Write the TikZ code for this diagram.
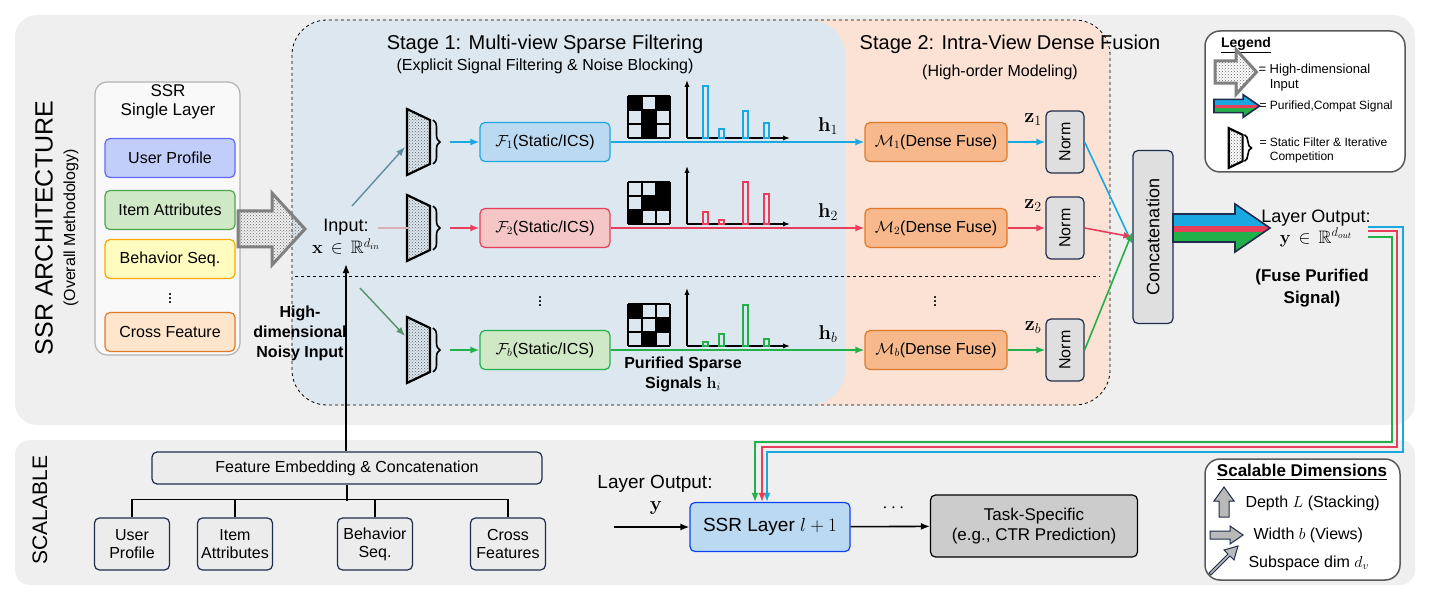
\documentclass[tikz,border=0pt]{standalone}
\usepackage{fix-cm}
\usepackage{amsmath,amssymb}
\usepackage[no-math]{fontspec}
\setmainfont{Liberation Sans}
\usetikzlibrary{patterns,arrows.meta,decorations.pathreplacing}

\definecolor{cblue}{HTML}{1AA8E0}
\definecolor{cred}{HTML}{E83E5C}
\definecolor{cgreen}{HTML}{22B04B}
\definecolor{fblue}{HTML}{BCD9F2}
\definecolor{fred}{HTML}{F5C6C6}
\definecolor{fgreen}{HTML}{CFE8C6}
\definecolor{forange}{HTML}{F7B98C}
\definecolor{dorange}{HTML}{E07A2A}
\definecolor{navy}{HTML}{1F2D4D}
\definecolor{panel}{HTML}{EFEFEF}
\definecolor{bgone}{HTML}{DCE7EF}
\definecolor{bgtwo}{HTML}{FBE2D5}

\tikzset{
  txt/.style={font=\fontsize{16}{18}\selectfont},
  small/.style={font=\fontsize{13}{15}\selectfont},
  big/.style={font=\fontsize{20}{22}\selectfont},
  box/.style={draw, rounded corners=5pt, line width=1.2pt, minimum height=39pt, align=center, txt},
  feat/.style={box, minimum width=130pt},
  fbox/.style={box, minimum width=130pt},
  mbox/.style={box, fill=forange, draw=dorange, minimum width=142pt},
  normbox/.style={draw=navy, fill=gray!25, rounded corners=5pt, line width=1.2pt, rotate=90, minimum width=62pt, minimum height=38pt, txt},
  gbox/.style={draw=navy, fill=gray!20, rounded corners=5pt, line width=1.2pt, align=center, txt},
  flow/.style={-{Latex[length=9pt,width=7pt]}, line width=1.6pt},
  filterglyph/.pic={
    \draw[line width=2.2pt, fill=gray!30, pattern=crosshatch dots, pattern color=gray!70!black]
      (-12,-33) -- (11,-22) -- (11,22) -- (-12,33) -- cycle;
    \draw[line width=1.6pt, decorate, decoration={brace, amplitude=7pt}] (14,-22) -- (14,22);
  },
  tricolor/.pic={
    \begin{scope}
      \clip (0,-14) -- (62,-14) -- (62,-24) -- (97,0) -- (62,24) -- (62,14) -- (0,14) -- cycle;
      \fill[cblue] (0,-25) rectangle (97,-2);
      \fill[cred] (0,-2) rectangle (97,4);
      \fill[cgreen] (0,4) rectangle (97,25);
    \end{scope}
    \draw[navy, line width=1.6pt, line join=miter]
      (0,-14) -- (62,-14) -- (62,-24) -- (97,0) -- (62,24) -- (62,14) -- (0,14) -- cycle;
  },
  noisy/.pic={
    \draw[gray, line width=3pt, fill=gray!35, pattern=crosshatch dots, pattern color=gray!80!black]
      (0,-18) -- (34,-18) -- (34,-36) -- (67,0) -- (34,36) -- (34,18) -- (0,18) -- cycle;
  }
}

\begin{document}
\begin{tikzpicture}[x=1pt, y=-1pt]
\useasboundingbox (0,0) rectangle (1430,601);

% panels
\fill[panel, rounded corners=22pt] (15,15) rectangle (1415,425);
\fill[panel, rounded corners=15pt] (15,440) rectangle (1415,585);
\node[rotate=90, font=\fontsize{25}{27}\selectfont] (archlbl) at (44,228) {SSR ARCHITECTURE};
\node[rotate=90, txt] (archsub) at (71,228) {(Overall Methodology)};
\node[rotate=90, font=\fontsize{21}{23}\selectfont] (scallbl) at (40,510) {SCALABLE};

% stage backgrounds
\fill[bgtwo, rounded corners=35pt] (780,20) rectangle (1110,405);
\fill[bgone, rounded corners=35pt] (292,20) rectangle (845,405);
\draw[dashed, thick, rounded corners=35pt] (292,20) rectangle (1110,405);
\draw[dashed, thick] (295,276) -- (1100,276);
\node[big] (st1) at (545,44) {Stage 1: Multi-view Sparse Filtering};
\node[txt] (st1s) at (545,66) {(Explicit Signal Filtering \& Noise Blocking)};
\node[big] (st2) at (1010,44) {Stage 2: Intra-View Dense Fusion};
\node[txt] (st2s) at (1000,72) {(High-order Modeling)};

% single layer
\draw[gray!60, fill=gray!5, rounded corners=12pt, line width=1.2pt] (95,82) rectangle (240,355);
\node[align=center, font=\fontsize{17}{19}\selectfont] (sl) at (168,102) {SSR\\Single Layer};
\node[feat, fill=fblue!80!blue!60, draw=blue!60] (up) at (170,158) {User Profile};
\node[feat, fill=fgreen, draw=green!50!black!70] (ia) at (170,210) {Item Attributes};
\node[feat, fill=yellow!25, draw=orange!70!yellow] (bs) at (170,259) {Behavior Seq.};
\node[font=\fontsize{18}{20}\selectfont] (sldots) at (170,296) {$\vdots$};
\node[feat, fill=orange!20, draw=dorange] (cf) at (170,332) {Cross Feature};
\pic at (238,229) {noisy};

% input
\node[align=center, font=\fontsize{18}{20}\selectfont] (inp) at (346,237) {Input:\\[2pt]$\mathbf{x}\,\in\,\mathbb{R}^{d_{in}}$};
\node[align=center, font=\bfseries\fontsize{16}{20}\selectfont] (hdni) at (300,333) {High-\\dimensional\\Noisy Input};

% views
\foreach \y/\i/\c/\f/\n/\cells/\bars in {
    142/1/cblue/fblue/1/{0,2,4,7}/{18/52,34/9,58/27,79/15},
    228/2/cred/fred/2/{2,4,5,6}/{18/12,34/4,58/42,79/30},
    350/b/cgreen/fgreen/3/{0,5,7}/{18/4,34/12,58/41,79/7}}{
  \pic at (419,\y) {filterglyph};
  \coordinate (br\n) at (450,\y);
  \node[fbox, fill=\f, draw=\c] (f\n) at (545,\y) {$\mathcal{F}_{\i}$(Static/ICS)};
  \node[mbox] (m\n) at (936,\y) {$\mathcal{M}_{\i}$(Dense Fuse)};
  \node[normbox] (nm\n) at (1065,\y) {Norm};
  \draw[flow, \c] (br\n) -- (f\n);
  \draw[flow, \c] (f\n) -- (m\n);
  \draw[flow, \c] (m\n) -- (nm\n);
  \node[font=\fontsize{20}{22}\selectfont] (h\n) at (828,\y-16) {$\mathbf{h}_{\i}$};
  \node[font=\fontsize{20}{22}\selectfont] (z\n) at (1033,\y-22) {$\mathbf{z}_{\i}$};
  % sparse pattern
  \foreach \k in \cells {
    \fill ({628+14*mod(\k,3)},{\y-46+14*div(\k,3)}) rectangle ++(14,14);
  }
  \foreach \g in {0,1,2,3} {
    \draw[line width=1.4pt] (628+14*\g,\y-46) -- (628+14*\g,\y-4);
    \draw[line width=1.4pt] (628,\y-46+14*\g) -- (670,\y-46+14*\g);
  }
  % bar chart
  \draw[line width=1.4pt, -{Latex[length=7pt]}] (687,\y-4) -- (687,\y-62);
  \draw[line width=1.4pt, -{Latex[length=7pt]}] (687,\y-4) -- (790,\y-4);
  \foreach \bx/\bh in \bars {
    \draw[\c, line width=1.3pt] (687+\bx-2,\y-4) rectangle (687+\bx+3,\y-4-\bh);
  }
}
\node[font=\fontsize{18}{20}\selectfont] (vd1) at (540,299) {$\vdots$};
\node[font=\fontsize{18}{20}\selectfont] (vd2) at (935,299) {$\vdots$};
\node[align=center, font=\bfseries\fontsize{16}{20}\selectfont] (pss) at (683,374) {Purified Sparse\\Signals $\mathbf{h}_i$};

\coordinate (in1) at (352,206);
\coordinate (in2) at (378,228);
\coordinate (in3) at (360,288);
\draw[flow, gray!70!cblue, line width=1.4pt] (in1) -- (405,147);
\draw[gray!50!cred!50, line width=1.4pt] (in2) -- (408,228);
\draw[flow, gray!60!cgreen, line width=1.4pt] (in3) -- (405,336);

% concatenation
\node[gbox, rotate=90, minimum width=173pt, minimum height=40pt, fill=gray!25, font=\fontsize{18}{20}\selectfont] (cat) at (1153,237) {Concatenation};
\draw[flow, cblue] (nm1.south) -- ([yshift=-7pt]cat.north);
\draw[flow, cred] (nm2.south) -- (cat.north);
\draw[flow, cgreen] (nm3.south) -- ([yshift=5pt]cat.north);
\pic at (1173,228) {tricolor};
\node[align=center, font=\fontsize{18}{20}\selectfont] (lo) at (1316,228) {Layer Output:\\[1pt]$\mathbf{y}\,\in\,\mathbb{R}^{d_{out}}$};
\node[align=center, font=\bfseries\fontsize{17}{22}\selectfont] (fps) at (1312,288) {(Fuse Purified\\Signal)};

% legend
\draw[gray!70!black, fill=white, rounded corners=15pt, line width=1.5pt] (1205,31) rectangle (1405,172);
\node[font=\bfseries\fontsize{14}{16}\selectfont] (lg) at (1246,45) {\underline{Legend}};
\pic[scale=0.62] at (1215,72) {noisy};
\node[align=left, small, anchor=west] (lg1) at (1255,78) {= High-dimensional\\\phantom{= }Input};
\pic[scale=0.47] at (1214,106) {tricolor};
\node[font=\fontsize{12}{14}\selectfont, anchor=west] (lg2) at (1256,106) {= Purified,Compat Signal};
\pic[scale=0.6] at (1236,148) {filterglyph};
\node[align=left, font=\fontsize{12}{14}\selectfont, anchor=west] (lg3) at (1256,150) {= Static Filter \& Iterative\\\phantom{= }Competition};

% bottom: embedding
\node[gbox, minimum width=390pt, minimum height=32pt, fill=gray!15] (emb) at (347,468) {Feature Embedding \& Concatenation};
\draw[flow, black] (emb.north -| inp.south) -- ([yshift=-6pt]inp.south);
\foreach \nm/\xx/\tx in {bup/132/User\\Profile, bia/235/Item\\Attributes, bbs/375/Behavior\\Seq., bcf/508/Cross\\Features}{
  \node[gbox, fill=gray!15, minimum width=75pt, minimum height=52pt] (\nm) at (\xx,544) {\tx};
}
\draw[line width=1.3pt] (bup.north) -- ++(0,-18) -| (bcf.north);
\draw[line width=1.3pt] (bia.north) -- ++(0,-18);
\draw[line width=1.3pt] (bbs.north) -- ++(0,-18);
\draw[line width=1.3pt] (emb.south) -- ++(0,16);

% bottom: stacking
\node[font=\fontsize{19}{21}\selectfont] (lo2) at (655,484) {Layer Output:};
\node[font=\fontsize{20}{22}\selectfont] (yv) at (656,508) {$\mathbf{y}$};
\coordinate (yin) at (614,527);
\node[box, fill=fblue, draw=blue!60!cblue, minimum width=160pt, minimum height=49pt, font=\fontsize{19}{21}\selectfont] (ssr) at (770,527) {SSR Layer $l+1$};
\node[gbox, draw=black, fill=gray!40, minimum width=207pt, minimum height=62pt, font=\fontsize{17}{20}\selectfont] (task) at (1034,526) {Task-Specific\\(e.g., CTR Prediction)};
\draw[flow, black] (yin) -- (ssr);
\draw[flow, black] (ssr) -- (task);
\node[font=\fontsize{19}{21}\selectfont] (cdots) at (895,508) {$\cdots$};

% feedback
\coordinate (fbb) at (1368,227);
\coordinate (fbr) at (1368,231);
\coordinate (fbg) at (1368,237);
\draw[flow, cblue, line width=1.5pt] (fbb) -- (1403,227) -- (1403,452) -- (767,452) -- ([xshift=-3pt]ssr.north);
\draw[flow, cred, line width=1.5pt] (fbr) -- (1397,231) -- (1397,447) -- (762,447) -- ([xshift=-8pt]ssr.north);
\draw[flow, cgreen, line width=1.5pt] (fbg) -- (1392,237) -- (1392,442) -- (755,442) -- ([xshift=-15pt]ssr.north);

% scalable dims
\draw[gray!70!black, fill=white, rounded corners=15pt, line width=1.5pt] (1205,459) rectangle (1400,580);
\node[font=\bfseries\fontsize{17}{19}\selectfont] (sd) at (1302,472) {\underline{Scalable Dimensions}};
\draw[navy, fill=gray!55, line width=1pt] (1219,517) -- (1219,501) -- (1214,501) -- (1224,487) -- (1234,501) -- (1229,501) -- (1229,517) -- cycle;
\node[txt, anchor=west] (sd1) at (1242,503) {Depth $L$ (Stacking)};
\draw[navy, fill=gray!55, line width=1pt] (1210,531) -- (1230,531) -- (1230,526) -- (1243,535) -- (1230,544) -- (1230,539) -- (1210,539) -- cycle;
\node[txt, anchor=west] (sd2) at (1250,535) {Width $b$ (Views)};
\draw[navy, fill=gray!55, line width=1pt] (1209,573) -- (1228,554) -- (1224,550) -- (1238,546) -- (1234,560) -- (1230,556) -- (1211,575) -- cycle;
\node[txt, anchor=west] (sd3) at (1245,563) {Subspace dim $d_v$};
\end{tikzpicture}
\end{document}
